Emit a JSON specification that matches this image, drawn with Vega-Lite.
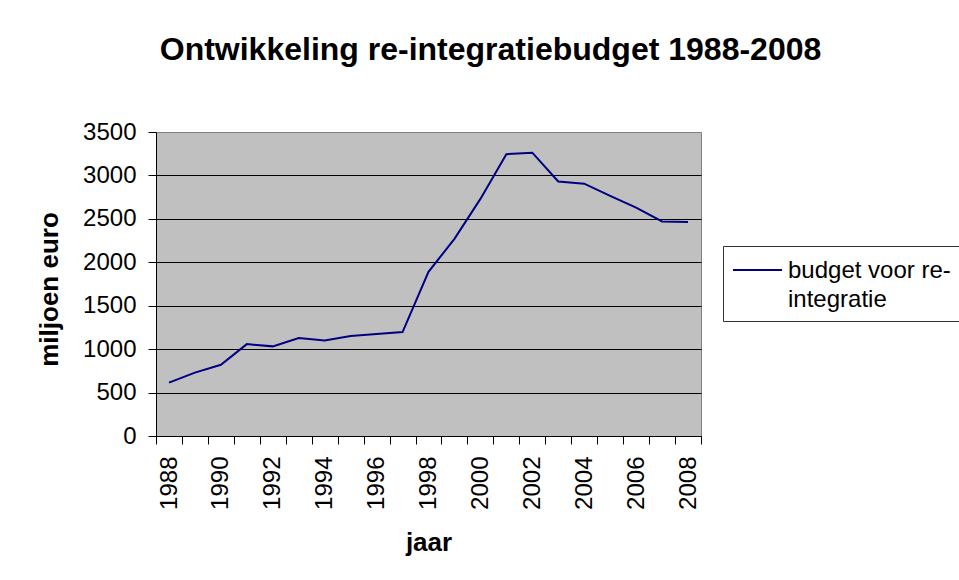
{
  "$schema": "https://vega.github.io/schema/vega-lite/v6.json",
  "width": 545,
  "height": 304,
  "autosize": {"type": "none"},
  "padding": {"left": 156, "top": 132, "right": 258, "bottom": 144},
  "background": "white",
  "title": {
    "text": "Ontwikkeling re-integratiebudget 1988-2008",
    "font": "Liberation Sans",
    "fontSize": 32,
    "fontWeight": "bold",
    "color": "black",
    "anchor": "middle",
    "baseline": "alphabetic",
    "dx": 62,
    "offset": 28
  },
  "data": {
    "values": [
      {"jaar": 1988, "budget": 615, "reeks": "budget voor re-integratie"},
      {"jaar": 1989, "budget": 730, "reeks": "budget voor re-integratie"},
      {"jaar": 1990, "budget": 820, "reeks": "budget voor re-integratie"},
      {"jaar": 1991, "budget": 1058, "reeks": "budget voor re-integratie"},
      {"jaar": 1992, "budget": 1032, "reeks": "budget voor re-integratie"},
      {"jaar": 1993, "budget": 1127, "reeks": "budget voor re-integratie"},
      {"jaar": 1994, "budget": 1100, "reeks": "budget voor re-integratie"},
      {"jaar": 1995, "budget": 1150, "reeks": "budget voor re-integratie"},
      {"jaar": 1996, "budget": 1175, "reeks": "budget voor re-integratie"},
      {"jaar": 1997, "budget": 1197, "reeks": "budget voor re-integratie"},
      {"jaar": 1998, "budget": 1890, "reeks": "budget voor re-integratie"},
      {"jaar": 1999, "budget": 2270, "reeks": "budget voor re-integratie"},
      {"jaar": 2000, "budget": 2730, "reeks": "budget voor re-integratie"},
      {"jaar": 2001, "budget": 3245, "reeks": "budget voor re-integratie"},
      {"jaar": 2002, "budget": 3262, "reeks": "budget voor re-integratie"},
      {"jaar": 2003, "budget": 2930, "reeks": "budget voor re-integratie"},
      {"jaar": 2004, "budget": 2905, "reeks": "budget voor re-integratie"},
      {"jaar": 2005, "budget": 2765, "reeks": "budget voor re-integratie"},
      {"jaar": 2006, "budget": 2630, "reeks": "budget voor re-integratie"},
      {"jaar": 2007, "budget": 2470, "reeks": "budget voor re-integratie"},
      {"jaar": 2008, "budget": 2465, "reeks": "budget voor re-integratie"}
    ]
  },
  "mark": {"type": "line", "strokeWidth": 2},
  "encoding": {
    "x": {
      "field": "jaar",
      "type": "quantitative",
      "scale": {"domain": [1987.5, 2008.5], "nice": false, "zero": false},
      "axis": {
        "title": "jaar",
        "values": [1987.5, 1988.5, 1989.5, 1990.5, 1991.5, 1992.5, 1993.5, 1994.5, 1995.5, 1996.5, 1997.5, 1998.5, 1999.5, 2000.5, 2001.5, 2002.5, 2003.5, 2004.5, 2005.5, 2006.5, 2007.5, 2008.5],
        "labelExpr": "(datum.value + 0.5) % 2 == 0 ? format(datum.value + 0.5, 'd') : ''",
        "labelAngle": -90,
        "labelOffset": 13,
        "labelOverlap": false,
        "labelPadding": 12,
        "labelFlush": false,
        "tickSize": 8,
        "grid": false,
        "titlePadding": 20
      }
    },
    "y": {
      "field": "budget",
      "type": "quantitative",
      "scale": {"domain": [0, 3500], "nice": false},
      "axis": {
        "title": "miljoen euro",
        "values": [0, 500, 1000, 1500, 2000, 2500, 3000, 3500],
        "format": "d",
        "tickSize": 8,
        "labelPadding": 12,
        "grid": true,
        "gridColor": {"condition": {"test": "datum.value == 3500", "value": "#808080"}, "value": "#000000"},
        "titlePadding": 20,
        "titleY": 157
      }
    },
    "color": {
      "field": "reeks",
      "type": "nominal",
      "scale": {"range": ["#000080"]},
      "legend": {
        "title": null,
        "orient": "none",
        "legendX": 567,
        "legendY": 114,
        "clipHeight": 30,
        "labelBaseline": "top",
        "labelExpr": "['budget voor re-', 'integratie']",
        "encode": {
          "labels": {
            "update": {
              "dy": {"value": -11},
              "lineHeight": {"value": 29}
            }
          }
        }
      }
    }
  },
  "config": {
    "font": "Liberation Sans",
    "view": {"fill": "#C0C0C0", "stroke": "#808080", "strokeWidth": 1},
    "axis": {
      "domainColor": "#000000",
      "domainWidth": 1,
      "tickColor": "#000000",
      "tickWidth": 1,
      "gridWidth": 1,
      "labelFont": "Liberation Sans",
      "labelFontSize": 24,
      "labelColor": "#000000",
      "titleFont": "Liberation Sans",
      "titleFontSize": 26,
      "titleFontWeight": "bold",
      "titleColor": "#000000"
    },
    "legend": {
      "strokeColor": "#333333",
      "fillColor": "#FFFFFF",
      "padding": 9,
      "symbolType": "stroke",
      "symbolSize": 2400,
      "symbolStrokeWidth": 2,
      "labelFont": "Liberation Sans",
      "labelFontSize": 24,
      "labelColor": "#000000",
      "labelLimit": 400,
      "labelOffset": 5
    }
  }
}
